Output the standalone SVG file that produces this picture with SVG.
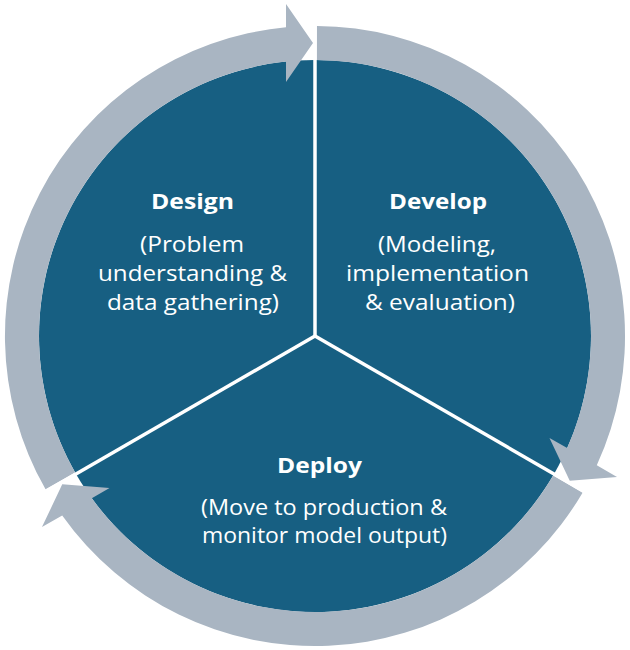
<svg xmlns="http://www.w3.org/2000/svg" xmlns:xlink="http://www.w3.org/1999/xlink" width="630" height="650" viewBox="0 0 630 650">
  <style>
    .sector { fill: #175f82; }
    .arrow { fill: #a9b5c2; }
    .divider { stroke: #ffffff; stroke-width: 3.5; stroke-linecap: butt; fill: none; }
    .title { font-family: "Open Sans", "Noto Sans", sans-serif; font-weight: 700; font-size: 22px; fill: #ffffff; text-anchor: middle; }
    .body { font-family: "Open Sans", "Noto Sans", sans-serif; font-weight: 400; font-size: 22px; fill: #ffffff; text-anchor: middle; }
  </style>
  <defs>
    <path id="cycleArrow" d="M45.54,489.37 A310,310 0 0 1 286,27.36 L286,4 L313,43 L286,82 L286,61.53 A276,276 0 0 0 75.10,472.55 Z"/>
  </defs>
  <rect width="630" height="650" fill="#ffffff"/>

  <g id="design">
    <path class="sector" d="M315,336 L75.98,473.99 A276,276 0 0 1 315,60 Z"/>
    <text class="title" x="192.5" y="209" textLength="83" lengthAdjust="spacingAndGlyphs">Design</text>
    <text class="body" x="192" y="252" textLength="104" lengthAdjust="spacingAndGlyphs">(Problem</text>
    <text class="body" x="192.5" y="281" textLength="189" lengthAdjust="spacingAndGlyphs">understanding &amp;</text>
    <text class="body" x="193" y="310" textLength="172" lengthAdjust="spacingAndGlyphs">data gathering)</text>
  </g>

  <g id="develop">
    <path class="sector" d="M315,336 L315,60 A276,276 0 0 1 554.02,474 Z"/>
    <text class="title" x="438" y="209" textLength="98" lengthAdjust="spacingAndGlyphs">Develop</text>
    <text class="body" x="437" y="252" textLength="118" lengthAdjust="spacingAndGlyphs">(Modeling,</text>
    <text class="body" x="437.5" y="281" textLength="183" lengthAdjust="spacingAndGlyphs">implementation</text>
    <text class="body" x="440" y="310" textLength="150" lengthAdjust="spacingAndGlyphs">&amp; evaluation)</text>
  </g>

  <g id="deploy">
    <path class="sector" d="M315,336 L554.02,474 A276,276 0 0 1 75.98,474 Z"/>
    <text class="title" x="319.5" y="473" textLength="85" lengthAdjust="spacingAndGlyphs">Deploy</text>
    <text class="body" x="324" y="515" textLength="246" lengthAdjust="spacingAndGlyphs">(Move to production &amp;</text>
    <text class="body" x="324.5" y="543" textLength="245" lengthAdjust="spacingAndGlyphs">monitor model output)</text>
  </g>

  <g id="connectors">
    <use xlink:href="#cycleArrow" class="arrow"/>
    <use xlink:href="#cycleArrow" class="arrow" transform="rotate(120 315 336)"/>
    <use xlink:href="#cycleArrow" class="arrow" transform="rotate(240 315 336)"/>
    <line class="divider" x1="315" y1="336" x2="315" y2="22"/>
    <line class="divider" x1="315" y1="336" x2="586.93" y2="493"/>
    <line class="divider" x1="315" y1="336" x2="43.07" y2="493"/>
  </g>
</svg>
